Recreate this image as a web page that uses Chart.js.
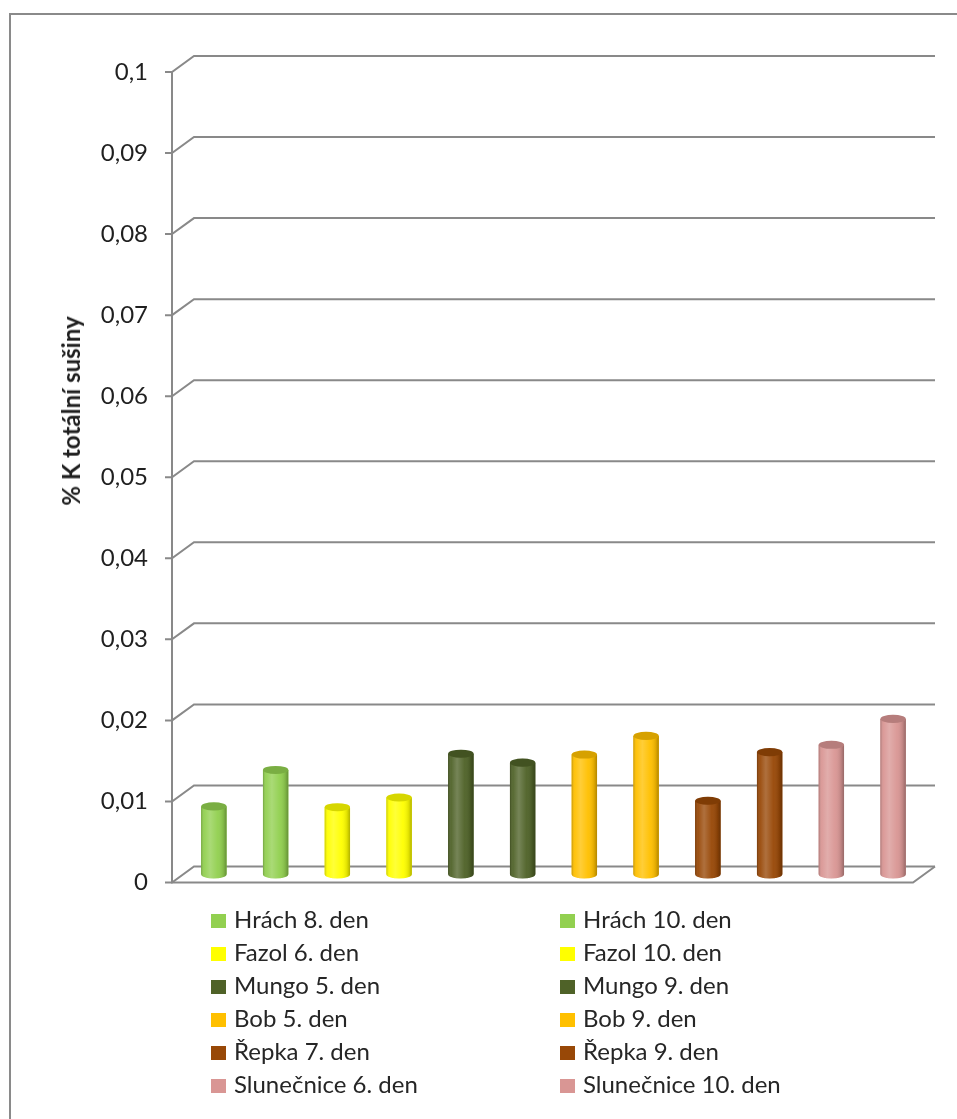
<!DOCTYPE html>
<html>
<head>
<meta charset="utf-8">
<script src="https://cdn.jsdelivr.net/npm/chart.js@4.4.0/dist/chart.umd.min.js"></script>
<style>
  html, body { margin: 0; padding: 0; background: #fff; overflow: hidden; }
  #wrap { position: relative; width: 957px; height: 1119px; overflow: hidden; }
  #frame { position: absolute; left: 9px; top: 13px; width: 1000px; height: 1200px; border: 2px solid #8a8a8a; }
  #chart { position: absolute; left: 0; top: 0; }
  #ytitle {
    position: absolute; left: 71px; top: 411px; white-space: nowrap;
    font: bold 24px Lato, sans-serif; line-height: 24px; color: #1f1f1f;
    transform: translate(-50%, -50%) rotate(-90deg);
  }
  #legend {
    position: absolute; left: 211px; top: 902px;
    display: grid; grid-template-columns: 349px 300px; grid-auto-rows: 33px;
    font: 24px Lato, sans-serif; color: #262626; line-height: 33px;
  }
  #legend .sw { display: inline-block; width: 15px; height: 14px; margin-right: 8px; }
</style>
</head>
<body>
<div id="wrap">
  <div id="frame"></div>
  <canvas id="chart" width="957" height="1119"></canvas>
  <div id="ytitle">% K totální sušiny</div>
  <div id="legend"></div>
</div>
<script>
// data
const categories = [''];
const seriesNames = ['Hrách 8. den', 'Hrách 10. den', 'Fazol 6. den', 'Fazol 10. den',
  'Mungo 5. den', 'Mungo 9. den', 'Bob 5. den', 'Bob 9. den',
  'Řepka 7. den', 'Řepka 9. den', 'Slunečnice 6. den', 'Slunečnice 10. den'];
const seriesValues = [0.0084, 0.0129, 0.0083, 0.0095, 0.0149, 0.0138, 0.0148, 0.0171, 0.0091, 0.0151, 0.0160, 0.0192];
const seriesColors = ['#92D050', '#92D050', '#FFFF00', '#FFFF00', '#4F6228', '#4F6228',
  '#FFC000', '#FFC000', '#984807', '#984807', '#D99694', '#D99694'];
const yTickLabels = ['0', '0,01', '0,02', '0,03', '0,04', '0,05', '0,06', '0,07', '0,08', '0,09', '0,1'];

const depthX = 22, depthY = 16;   // posun zadni steny (3D)

// mrizka, podlaha a valcove sloupce
const walls = {
  id: 'walls',
  beforeDatasetsDraw(chart) {
    const ctx = chart.ctx, a = chart.chartArea, y = chart.scales.y;
    ctx.save();
    ctx.strokeStyle = '#898989';
    ctx.lineWidth = 2;
    y.ticks.forEach(t => {
      const py = y.getPixelForValue(t.value);
      ctx.beginPath();
      ctx.moveTo(a.left - 7, py);
      ctx.lineTo(a.left, py);
      ctx.lineTo(a.left + depthX, py - depthY);
      ctx.lineTo(a.right + depthX, py - depthY);
      ctx.stroke();
    });
    const y0 = y.getPixelForValue(0);
    ctx.beginPath();
    ctx.moveTo(a.left, y.getPixelForValue(0.1));
    ctx.lineTo(a.left, y0);
    ctx.lineTo(a.right, y0);
    ctx.lineTo(a.right + depthX, y0 - depthY);
    ctx.stroke();
    ctx.restore();
    // sloupce stoji uprostred hloubky
    ctx.save();
    ctx.translate(depthX / 2, -depthY / 2);
  },
  afterDatasetsDraw(chart) {
    const ctx = chart.ctx;
    chart.data.datasets.forEach((ds, i) => {
      chart.getDatasetMeta(i).data.forEach(bar => {
        const p = bar.getProps(['x', 'y', 'base', 'width'], true);
        const l = p.x - p.width / 2, r = p.x + p.width / 2, rx = p.width / 2, ry = p.width * 0.16;
        const body = () => {
          ctx.beginPath();
          ctx.moveTo(l, p.y);
          ctx.lineTo(l, p.base);
          ctx.ellipse(p.x, p.base, rx, ry, 0, Math.PI, 0, true);
          ctx.lineTo(r, p.y);
          ctx.closePath();
        };
        const g = ctx.createLinearGradient(l, 0, r, 0);
        g.addColorStop(0, 'rgba(0,0,0,0.22)');
        g.addColorStop(0.12, 'rgba(255,255,255,0.05)');
        g.addColorStop(0.35, 'rgba(255,255,255,0.22)');
        g.addColorStop(0.65, 'rgba(255,255,255,0.04)');
        g.addColorStop(0.88, 'rgba(0,0,0,0.12)');
        g.addColorStop(1, 'rgba(0,0,0,0.3)');
        ctx.fillStyle = ds.backgroundColor;
        body(); ctx.fill();
        ctx.fillStyle = g;
        body(); ctx.fill();
        // horni vicko
        ctx.beginPath();
        ctx.ellipse(p.x, p.y, rx, ry, 0, 0, Math.PI * 2);
        ctx.fillStyle = ds.backgroundColor;
        ctx.fill();
        ctx.fillStyle = 'rgba(0,0,0,0.16)';
        ctx.fill();
      });
    });
    ctx.restore();
  }
};

const datasets = seriesNames.map((name, i) => ({
  label: name,
  data: [seriesValues[i]],
  backgroundColor: seriesColors[i],
  borderWidth: 0,
  barPercentage: 0.41,
  categoryPercentage: 1
}));

new Chart(document.getElementById('chart'), {
  type: 'bar',
  data: { labels: categories, datasets: datasets },
  options: {
    responsive: false,
    animation: false,
    layout: { padding: { left: 0, top: 72, right: 44, bottom: 236.5 } },
    scales: {
      x: { display: false },
      y: {
        min: 0,
        max: 0.1,
        afterFit: s => { s.width = 172; },
        grid: { display: false, drawTicks: false },
        border: { display: false },
        ticks: {
          stepSize: 0.01,
          padding: 24,
          color: '#1f1f1f',
          font: { family: 'Lato', size: 24 },
          callback: (v, i) => yTickLabels[i]
        }
      }
    },
    plugins: { legend: { display: false }, tooltip: { enabled: false } }
  },
  plugins: [walls]
});

// legenda ve dvou sloupcich
const legend = document.getElementById('legend');
seriesNames.forEach((name, i) => {
  const item = document.createElement('div');
  const sw = document.createElement('span');
  sw.className = 'sw';
  sw.style.background = seriesColors[i];
  item.appendChild(sw);
  item.appendChild(document.createTextNode(name));
  legend.appendChild(item);
});
</script>
</body>
</html>
